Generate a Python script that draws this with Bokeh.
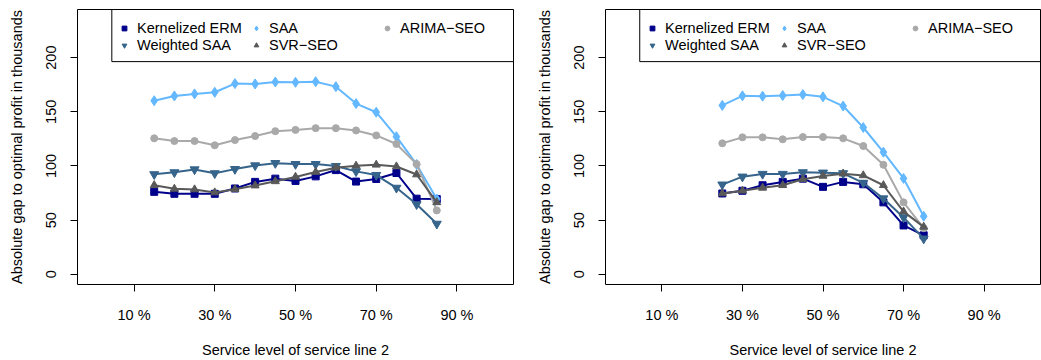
from bokeh.plotting import figure
from bokeh.layouts import row
from bokeh.models import Range1d, FixedTicker, Legend, LegendItem, BoxAnnotation
from bokeh.embed import file_html
from bokeh.resources import INLINE

# ---------------- data ----------------
LEVELS_A = [15, 20, 25, 30, 35, 40, 45, 50, 55, 60, 65, 70, 75, 80, 85]
KERM_A = [76.1, 74.3, 74.3, 74.3, 79.2, 85.3, 88.3, 86.2, 90.4, 96.2, 85.6, 88.0, 93.5, 69.8, 69.4]
SAA_A = [160.2, 164.6, 166.5, 168.0, 176.0, 175.7, 177.5, 177.2, 177.8, 173.2, 157.6, 149.6, 127.0, 101.4, 69.5]
ARIMA_A = [125.5, 123.0, 123.0, 119.1, 123.9, 127.6, 132.1, 133.3, 134.9, 134.9, 132.8, 128.2, 120.3, 101.7, 59.0]
WSAA_A = [92.3, 94.1, 96.8, 93.2, 97.1, 100.5, 102.6, 101.7, 101.7, 99.9, 95.0, 91.6, 79.8, 64.6, 46.6]
SVR_A = [82.2, 78.9, 78.3, 75.5, 78.5, 81.9, 85.8, 89.9, 94.4, 98.4, 100.2, 101.1, 99.5, 92.1, 66.4]

LEVELS_B = [25, 30, 35, 40, 45, 50, 55, 60, 65, 70, 75]
KERM_B = [74.6, 77.1, 82.2, 85.3, 88.3, 80.7, 85.3, 83.1, 66.4, 45.1, 36.0]
SAA_B = [155.9, 164.7, 164.4, 165.0, 165.9, 163.8, 155.3, 135.5, 112.7, 88.5, 53.6]
ARIMA_B = [120.9, 126.4, 126.4, 124.6, 126.7, 126.7, 125.5, 118.4, 101.1, 66.4, 42.6]
WSAA_B = [82.8, 90.1, 92.6, 92.6, 94.1, 93.8, 93.2, 84.4, 70.0, 52.5, 32.9]
SVR_B = [74.6, 77.1, 79.8, 82.2, 87.7, 90.8, 92.9, 91.3, 82.2, 57.9, 43.8]

SERIES_NAMES = ["Kernelized ERM", "SAA", "ARIMA\u2212SEO", "Weighted SAA", "SVR\u2212SEO"]
X_TICKS = [10, 30, 50, 70, 90]
X_TICK_LABELS = ["10 %", "30 %", "50 %", "70 %", "90 %"]
Y_TICKS = [0, 50, 100, 150, 200]
X_LABEL = "Service level of service line 2"
Y_LABEL = "Absolute gap to optimal profit in thousands"

# ---------------- style ----------------
FONT = "Liberation Sans"
FS = "14.5px"
STYLE = {
    "Kernelized ERM": dict(color="#00008B", marker="square", size=7),
    "SAA": dict(color="#63B8FF", marker="diamond", size=10),
    "ARIMA\u2212SEO": dict(color="#A9A9A9", marker="circle", size=7),
    "Weighted SAA": dict(color="#36648B", marker="inverted_triangle", size=9),
    "SVR\u2212SEO": dict(color="#595959", marker="triangle", size=8),
}
# legend layout: (column, row) of each entry, 3 columns filled row-wise
LEGEND_POS = {
    "Kernelized ERM": (0, 0), "SAA": (1, 0), "ARIMA\u2212SEO": (2, 0),
    "Weighted SAA": (0, 1), "SVR\u2212SEO": (1, 1),
}
COL_X = [41, 173, 304]      # px from frame left
ROW_Y = [245.6, 229.0]      # px (legend bottom) from frame bottom


def make_panel(levels, series, width, left, right):
    p = figure(width=width, height=360, output_backend="svg", toolbar_location=None,
               x_range=Range1d(-4, 104), y_range=Range1d(-9.4, 244.4),
               min_border_left=left, min_border_right=right,
               min_border_top=9, min_border_bottom=73)
    p.xgrid.visible = False
    p.ygrid.visible = False
    p.outline_line_color = "black"
    p.outline_line_width = 1
    p.background_fill_color = "white"
    p.border_fill_color = "white"

    for ax in (p.xaxis[0], p.yaxis[0]):
        ax.axis_line_color = None
        ax.major_tick_out = 7
        ax.major_tick_in = 0
        ax.minor_tick_line_color = None
        ax.major_tick_line_color = "black"
        ax.major_label_text_font = FONT
        ax.major_label_text_font_size = FS
        ax.major_label_text_color = "black"
        ax.axis_label_text_font = FONT
        ax.axis_label_text_font_size = FS
        ax.axis_label_text_font_style = "normal"
        ax.axis_label_text_color = "black"

    p.xaxis.ticker = FixedTicker(ticks=X_TICKS)
    p.xaxis.major_label_overrides = {t: l for t, l in zip(X_TICKS, X_TICK_LABELS)}
    p.xaxis.major_label_standoff = 15
    p.xaxis.axis_label = X_LABEL
    p.xaxis.axis_label_standoff = 16

    p.yaxis.ticker = FixedTicker(ticks=Y_TICKS)
    p.yaxis.major_label_orientation = "vertical"
    p.yaxis.major_label_standoff = 14
    p.yaxis.axis_label = Y_LABEL
    p.yaxis.axis_label_standoff = 19

    pts = {}
    for name in SERIES_NAMES:
        st = STYLE[name]
        p.line(levels, series[name], line_color=st["color"], line_width=2)
        pts[name] = p.scatter(levels, series[name], marker=st["marker"], size=st["size"],
                              fill_color=st["color"], line_color=st["color"], line_width=1)

    # legend frame (top right)
    p.add_layout(BoxAnnotation(left=4.5, bottom=196.3, fill_alpha=0,
                               line_color="black", line_alpha=1, line_width=1))
    for name in SERIES_NAMES:
        c, r = LEGEND_POS[name]
        leg = Legend(items=[LegendItem(label=name, renderers=[pts[name]])],
                     location=(COL_X[c], ROW_Y[r]),
                     border_line_color=None, background_fill_alpha=0,
                     padding=0, margin=0, spacing=0,
                     glyph_width=12, glyph_height=20, label_height=20,
                     label_standoff=7,
                     label_text_font=FONT, label_text_font_size=FS,
                     label_text_color="black")
        p.add_layout(leg)
    return p


p1 = make_panel(LEVELS_A, {"Kernelized ERM": KERM_A, "SAA": SAA_A, "ARIMA\u2212SEO": ARIMA_A,
                           "Weighted SAA": WSAA_A, "SVR\u2212SEO": SVR_A}, 520, 77, 7)
p2 = make_panel(LEVELS_B, {"Kernelized ERM": KERM_B, "SAA": SAA_B, "ARIMA\u2212SEO": ARIMA_B,
                           "Weighted SAA": WSAA_B, "SVR\u2212SEO": SVR_B}, 521, 85, 1)

layout = row(p1, p2)
open("out.html", "w").write(file_html(layout, INLINE))
